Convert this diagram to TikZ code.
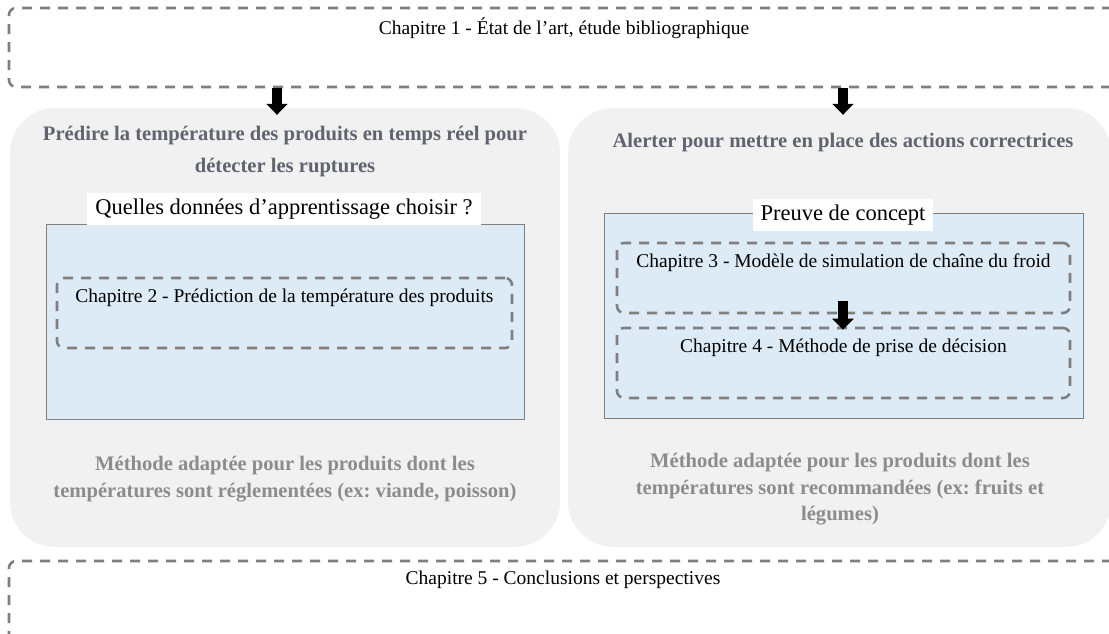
\documentclass[tikz,border=0pt]{standalone}
\usepackage{fontspec}
\setmainfont{Liberation Serif}
\frenchspacing
\usetikzlibrary{arrows.meta,calc}
\definecolor{dashgray}{RGB}{127,127,127}
\definecolor{panelgray}{RGB}{241,241,241}
\definecolor{paleblue}{RGB}{221,235,247}
\definecolor{headgray}{RGB}{95,100,110}
\definecolor{notegray}{RGB}{140,140,140}
\tikzset{
  chapbox/.style={draw=dashgray, line width=2.6pt, dash pattern=on 10pt off 8pt, rounded corners=7pt, inner sep=0pt},
  panel/.style={fill=panelgray, rounded corners=45pt, inner sep=0pt},
  bluebox/.style={fill=paleblue, draw=dashgray, line width=1pt, inner sep=0pt},
  tagbox/.style={fill=white, inner xsep=8pt, inner ysep=6pt, font=\fontsize{22.5}{26}\selectfont},
  chtext/.style={font=\fontsize{19.5}{23}\selectfont, inner sep=0pt},
  headtext/.style={text=headgray, font=\fontsize{20.6}{32}\selectfont\bfseries, align=center, inner sep=0pt},
  notetext/.style={text=notegray, font=\fontsize{20.6}{26.5}\selectfont\bfseries, align=center, inner sep=0pt},
  bigarrow/.style={line width=10pt, -{Triangle[length=11pt,width=21pt]}}
}
\begin{document}
\begin{tikzpicture}[x=1pt,y=-1pt]
\useasboundingbox (0,0) rectangle (1109,634);
% top chapter box
\node[chapbox, minimum width=1110pt, minimum height=79pt] (ch1) at (564,47.5) {};
\node[chtext] (t1) at (564,28) {Chapitre 1 - État de l’art, étude bibliographique};
% panels
\node[panel, minimum width=550pt, minimum height=439pt] (L) at (285,327.5) {};
\node[panel, minimum width=543pt, minimum height=439pt] (R) at (839.5,327.5) {};
% headings
\node[headtext] (hl) at (285,152) {Prédire la température des produits en temps réel pour\\détecter les ruptures};
\node[headtext] (hr) at (843,143) {Alerter pour mettre en place des actions correctrices};
% blue boxes
\node[bluebox, minimum width=478pt, minimum height=195pt] (bl) at (285,321.5) {};
\node[bluebox, minimum width=479pt, minimum height=205pt] (br) at (843.5,315.5) {};
\node[tagbox] (ql) at (284,209) {Quelles données d’apprentissage choisir ?};
\node[tagbox] (qr) at (843,215) {Preuve de concept};
% chapter boxes inside
\node[chapbox, minimum width=455pt, minimum height=70pt] (ch2) at (284.5,313) {};
\node[chtext] (t2) at (284.5,298) {Chapitre 2 - Prédiction de la température des produits};
\node[chapbox, minimum width=453pt, minimum height=70pt] (ch3) at (843.5,278) {};
\node[chtext] (t3) at (843.5,263) {Chapitre 3 - Modèle de simulation de chaîne du froid};
\node[chapbox, minimum width=453pt, minimum height=70pt] (ch4) at (843.5,363) {};
\node[chtext] (t4) at (843.5,348) {Chapitre 4 - Méthode de prise de décision};
% notes
\node[notetext] (nl) at (285,479) {Méthode adaptée pour les produits dont les\\températures sont réglementées (ex: viande, poisson)};
\node[notetext] (nr) at (840,489.5) {Méthode adaptée pour les produits dont les\\températures sont recommandées (ex: fruits et\\légumes)};
% bottom chapter box
\node[chapbox, minimum width=1110pt, minimum height=89pt] (ch5) at (564,605.5) {};
\node[chtext] (t5) at (563,580) {Chapitre 5 - Conclusions et perspectives};
% arrows
\coordinate (xa) at (277,0);
\coordinate (xb) at (843,0);
\draw[bigarrow, shorten >=-7pt] (ch1.south -| xa) -- (L.north -| xa);
\draw[bigarrow, shorten >=-7pt] (ch1.south -| xb) -- (R.north -| xb);
\draw[bigarrow, shorten <=-13pt, shorten >=-3pt] (ch3.south -| xb) -- (ch4.north -| xb);
\end{tikzpicture}
\end{document}
